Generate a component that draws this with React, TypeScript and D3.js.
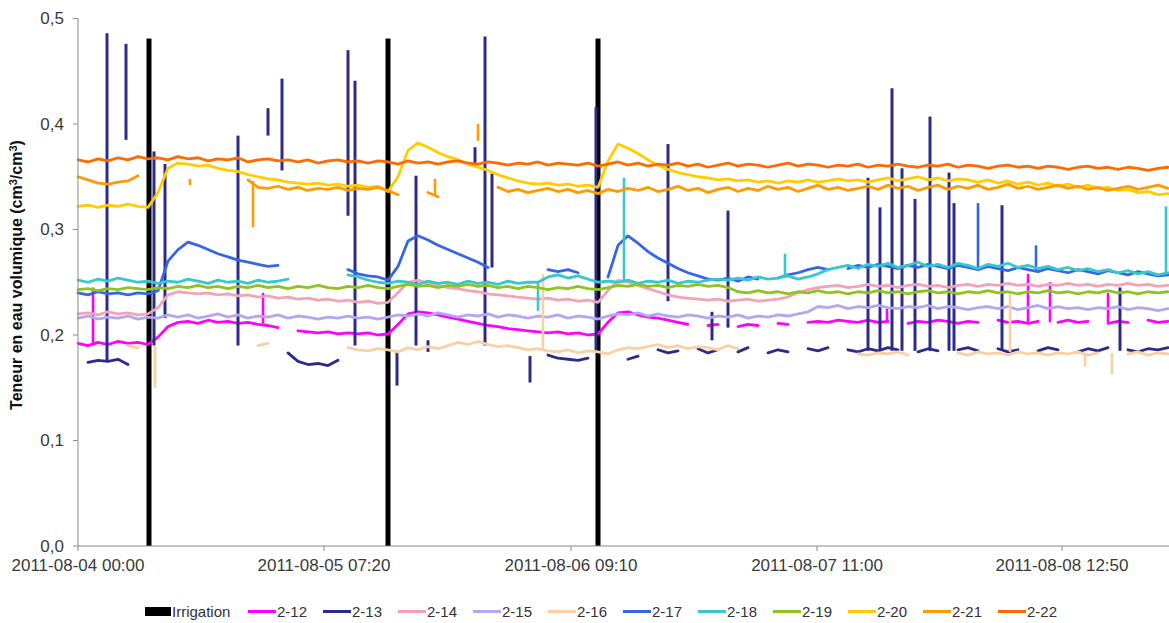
import React from 'react';
import * as d3 from 'd3';

// Soil volumetric water content, probes 2-12 … 2-22, with irrigation events.
// x is the sample index of the logger (one unit = one reading slot).

const W = 1169;
const H = 623;

const xTickPos = [0, 24.6, 49.3, 73.9, 98.4];
const xTickLabels = [
  '2011-08-04 00:00',
  '2011-08-05 07:20',
  '2011-08-06 09:10',
  '2011-08-07 11:00',
  '2011-08-08 12:50',
];
const yTicks = [0, 0.1, 0.2, 0.3, 0.4, 0.5];

const irrigationPos = [7.1, 31.0, 52.0];
const irrigationVal = [0.481, 0.481, 0.481];

const s2_12 = [
  0.192, 0.190, 0.193, 0.191, 0.194, 0.192, 0.193, 0.191, 0.198, 0.208,
  0.212, 0.213, 0.211, 0.214, 0.212, 0.213, 0.211, 0.212, 0.210, 0.209,
  0.207, null, 0.204, 0.203, 0.202, 0.203, 0.201, 0.202, 0.201, 0.202,
  0.200, 0.201, 0.210, 0.220, 0.222, 0.221, 0.219, 0.217, 0.215, 0.213,
  0.211, 0.209, 0.208, 0.206, 0.205, 0.204, 0.203, 0.202, 0.203, 0.201,
  0.202, 0.200, 0.201, 0.212, 0.221, 0.222, 0.219, 0.217, 0.216, 0.214,
  0.212, 0.210, null, 0.209, 0.210, null, 0.208, 0.210, 0.209, null,
  0.211, 0.210, null, 0.212, 0.213, 0.212, 0.214, 0.213, 0.212, 0.214,
  0.212, 0.213, null, 0.211, 0.213, 0.212, 0.214, 0.213, 0.211, 0.213,
  0.212, null, 0.214, 0.212, 0.213, 0.211, 0.213, null, 0.212, 0.214,
  0.212, 0.213, null, 0.211, 0.213, 0.212, null, 0.214, 0.212, 0.213,
];
const spikes2_12 = [
  [1.5, 0.192, 0.245],
  [18.5, 0.211, 0.24],
  [80.9, 0.213, 0.225],
  [95.0, 0.212, 0.258],
  [97.2, 0.212, 0.25],
  [103.0, 0.212, 0.24],
];

const s2_13 = [
  null, 0.174, 0.176, 0.175, 0.177, 0.172, null, null, null, null,
  null, null, null, null, null, null, null, null, null, null,
  null, 0.183, 0.175, 0.172, 0.173, 0.171, 0.176, null, null, null,
  null, null, null, null, null, null, null, null, null, null,
  null, null, null, null, null, null, null, 0.181, 0.178, 0.177,
  0.176, 0.178, null, null, null, 0.177, 0.180, null, 0.186, 0.183,
  0.185, null, 0.187, 0.183, 0.186, null, 0.184, 0.188, null, 0.183,
  0.186, 0.184, null, 0.187, 0.185, 0.188, null, 0.186, 0.184, 0.187,
  0.185, 0.188, 0.186, null, 0.184, 0.187, 0.185, null, 0.186, 0.188,
  0.185, null, 0.187, 0.184, 0.186, null, 0.185, 0.188, 0.186, null,
  0.184, 0.187, 0.185, 0.188, null, 0.186, 0.184, 0.187, 0.186, 0.188,
];
const spikes2_13 = [
  [2.9, 0.175, 0.486],
  [4.8, 0.385, 0.476],
  [7.6, 0.19, 0.374],
  [8.7, 0.216, 0.362],
  [16.0, 0.19, 0.389],
  [19.0, 0.389, 0.415],
  [20.4, 0.356, 0.443],
  [27.0, 0.313, 0.47],
  [27.7, 0.19, 0.441],
  [31.9, 0.152, 0.185],
  [33.8, 0.19, 0.351],
  [35.0, 0.184, 0.195],
  [39.7, 0.362, 0.378],
  [40.7, 0.19, 0.483],
  [41.4, 0.264, 0.353],
  [45.2, 0.155, 0.18],
  [51.8, 0.185, 0.416],
  [59.0, 0.232, 0.381],
  [63.4, 0.195, 0.222],
  [65.0, 0.207, 0.318],
  [79.0, 0.185, 0.349],
  [80.2, 0.185, 0.321],
  [81.4, 0.185, 0.434],
  [82.4, 0.185, 0.358],
  [83.7, 0.185, 0.329],
  [85.2, 0.185, 0.407],
  [87.1, 0.185, 0.354],
  [87.6, 0.185, 0.325],
  [92.4, 0.185, 0.323],
  [104.2, 0.185, 0.245],
];

const s2_14 = [
  0.220, 0.221, 0.219, 0.222, 0.220, 0.221, 0.219, 0.220, 0.226, 0.238,
  0.241, 0.240, 0.239, 0.240, 0.238, 0.239, 0.237, 0.238, 0.236, 0.237,
  0.235, 0.236, 0.234, 0.235, 0.233, 0.234, 0.232, 0.233, 0.231, 0.232,
  0.230, 0.231, 0.240, 0.250, 0.252, 0.249, 0.247, 0.245, 0.244, 0.242,
  0.241, 0.239, 0.238, 0.237, 0.236, 0.235, 0.234, 0.235, 0.233, 0.234,
  0.232, 0.233, 0.231, 0.242, 0.252, 0.250, 0.247, 0.244, 0.241, 0.238,
  0.236, 0.235, 0.234, 0.233, 0.234, 0.232, 0.233, 0.234, 0.232, 0.233,
  0.234, 0.236, 0.240, 0.243, 0.245, 0.246, 0.247, 0.245, 0.246, 0.248,
  0.246, 0.247, 0.245, 0.247, 0.248, 0.246, 0.247, 0.245, 0.247, 0.248,
  0.246, 0.248, 0.247, 0.249, 0.247, 0.248, 0.246, 0.248, 0.247, 0.249,
  0.247, 0.248, 0.246, 0.248, 0.247, 0.249, 0.247, 0.248, 0.246, 0.247,
];

const s2_15 = [
  0.216, 0.218, 0.215, 0.217, 0.216, 0.218, 0.215, 0.217, 0.216, 0.219,
  0.217, 0.219, 0.216, 0.218, 0.220, 0.217, 0.219, 0.216, 0.218, 0.217,
  0.219, 0.216, 0.218, 0.217, 0.215, 0.217, 0.216, 0.218, 0.216, 0.217,
  0.215, 0.217, 0.219, 0.218, 0.220, 0.218, 0.221, 0.219, 0.217, 0.219,
  0.218, 0.220, 0.217, 0.219, 0.218, 0.216, 0.218, 0.217, 0.219, 0.216,
  0.218, 0.217, 0.215, 0.218, 0.220, 0.219, 0.221, 0.218, 0.220, 0.218,
  0.217, 0.219, 0.218, 0.216, 0.218, 0.217, 0.219, 0.216, 0.218, 0.217,
  0.219, 0.218, 0.220, 0.222, 0.227, 0.226, 0.228, 0.225, 0.227, 0.226,
  0.228, 0.226, 0.225, 0.227, 0.226, 0.228, 0.225, 0.227, 0.226, 0.224,
  0.226, 0.227, 0.225, 0.227, 0.224, 0.226, 0.228, 0.225, 0.227, 0.225,
  0.226, 0.224, 0.226, 0.225, 0.227, 0.224, 0.226, 0.225, 0.223, 0.225,
];

const s2_16 = [
  null, null, null, null, null, 0.190, 0.188, null, null, null,
  null, null, null, null, null, null, null, null, 0.190, 0.192,
  null, null, null, null, null, null, null, 0.188, 0.186, 0.185,
  0.187, 0.186, 0.184, 0.188, 0.186, 0.189, 0.187, 0.190, 0.193, 0.191,
  0.194, 0.191, 0.189, 0.190, 0.188, 0.186, 0.187, 0.185, 0.184, 0.186,
  0.183, 0.185, 0.184, 0.182, 0.186, 0.188, 0.187, 0.189, 0.191, 0.188,
  0.190, 0.187, 0.189, 0.188, 0.186, 0.190, 0.187, null, null, null,
  null, null, null, null, null, null, null, null, 0.182, 0.181,
  0.183, 0.182, 0.184, 0.181, null, null, null, null, 0.183, 0.181,
  0.184, 0.182, 0.183, 0.181, 0.184, 0.182, 0.183, 0.181, 0.183, 0.182,
  0.184, 0.181, 0.183, null, null, 0.182, 0.184, 0.181, 0.183, 0.182,
];
const spikes2_16 = [
  [7.7, 0.15, 0.19],
  [46.5, 0.185, 0.258],
  [93.2, 0.184, 0.24],
  [100.7, 0.17, 0.183],
  [103.4, 0.163, 0.183],
];

const s2_17 = [
  0.240, 0.238, 0.241, 0.239, 0.240, 0.238, 0.240, 0.239, 0.242, 0.270,
  0.281, 0.288, 0.285, 0.281, 0.277, 0.274, 0.271, 0.269, 0.267, 0.265,
  0.266, null, null, null, null, null, null, 0.262, 0.258, 0.256,
  0.255, 0.252, 0.265, 0.289, 0.294, 0.290, 0.285, 0.281, 0.277, 0.273,
  0.269, 0.264, null, null, null, null, null, 0.262, 0.260, 0.262,
  0.259, null, null, 0.255, 0.285, 0.294, 0.287, 0.279, 0.273, 0.268,
  0.263, 0.259, 0.256, 0.253, 0.252, 0.254, 0.251, 0.255, 0.253, null,
  0.254, 0.257, 0.259, 0.262, 0.264, 0.262, null, 0.263, 0.266, 0.264,
  0.267, 0.265, 0.263, 0.266, 0.264, 0.267, 0.265, 0.263, 0.266, 0.264,
  0.262, 0.265, 0.263, 0.261, 0.264, 0.262, 0.260, 0.263, 0.261, 0.259,
  0.262, 0.260, 0.258, 0.261, 0.259, 0.257, 0.260, 0.258, 0.256, 0.257,
];
const spikes2_17 = [
  [90.0, 0.262, 0.325],
  [95.8, 0.26, 0.285],
];

const s2_18 = [
  0.252, 0.250, 0.253, 0.251, 0.254, 0.252, 0.250, 0.251, 0.249, 0.251,
  0.250, 0.253, 0.251, 0.249, 0.252, 0.250, 0.251, 0.249, 0.252, 0.250,
  0.251, 0.253, null, null, null, null, null, 0.257, 0.255, 0.252,
  0.250, 0.249, 0.251, 0.250, 0.248, 0.251, 0.249, 0.250, 0.248, 0.251,
  0.249, 0.250, 0.248, 0.251, 0.249, 0.250, 0.250, 0.255, 0.257, 0.254,
  0.256, 0.253, 0.250, 0.251, 0.250, 0.252, 0.249, 0.251, 0.250, 0.252,
  0.249, 0.251, 0.250, 0.252, 0.253, 0.252, 0.254, 0.252, 0.255, 0.253,
  0.254, 0.256, 0.253, 0.255, 0.258, 0.262, 0.264, 0.266, 0.263, 0.267,
  0.265, 0.268, 0.264, 0.266, 0.269, 0.265, 0.267, 0.264, 0.268, 0.266,
  0.263, 0.267, 0.265, 0.268, 0.264, 0.266, 0.263, 0.265, 0.262, 0.264,
  0.261, 0.263, 0.260, 0.262, 0.259, 0.261, 0.258, 0.260, 0.257, 0.259,
];
const spikes2_18 = [
  [46.0, 0.223, 0.25],
  [54.6, 0.25, 0.349],
  [70.7, 0.254, 0.277],
  [108.8, 0.258, 0.322],
];

const s2_19 = [
  0.243, 0.244, 0.242, 0.244, 0.243, 0.245, 0.244, 0.243, 0.245, 0.244,
  0.246, 0.245, 0.247, 0.245, 0.246, 0.244, 0.246, 0.245, 0.247, 0.245,
  0.246, 0.244, 0.246, 0.245, 0.247, 0.245, 0.244, 0.246, 0.245, 0.247,
  0.245, 0.244, 0.246, 0.248, 0.246, 0.247, 0.245, 0.247, 0.246, 0.248,
  0.246, 0.247, 0.245, 0.246, 0.244, 0.246, 0.245, 0.243, 0.245, 0.244,
  0.246, 0.244, 0.243, 0.245, 0.247, 0.246, 0.248, 0.246, 0.247, 0.245,
  0.247, 0.246, 0.248, 0.246, 0.247, 0.245, 0.241, 0.240, 0.242, 0.240,
  0.241, 0.239, 0.241, 0.240, 0.242, 0.240, 0.241, 0.239, 0.241, 0.240,
  0.242, 0.240, 0.241, 0.239, 0.241, 0.242, 0.240, 0.241, 0.239, 0.241,
  0.240, 0.242, 0.240, 0.241, 0.239, 0.241, 0.240, 0.242, 0.240, 0.241,
  0.239, 0.241, 0.240, 0.242, 0.240, 0.241, 0.239, 0.241, 0.240, 0.241,
];

const s2_20 = [
  0.322, 0.323, 0.321, 0.323, 0.322, 0.324, 0.322, 0.321, 0.335, 0.358,
  0.363, 0.362, 0.360, 0.361, 0.358, 0.356, 0.355, 0.352, 0.350, 0.348,
  0.347, 0.345, 0.344, 0.343, 0.344, 0.342, 0.343, 0.341, 0.342, 0.340,
  0.341, 0.336, 0.350, 0.375, 0.382, 0.378, 0.373, 0.369, 0.366, 0.362,
  0.359, 0.356, 0.352, 0.349, 0.346, 0.344, 0.343, 0.344, 0.342, 0.343,
  0.341, 0.342, 0.340, 0.365, 0.381, 0.377, 0.372, 0.366, 0.361, 0.357,
  0.354, 0.352, 0.350, 0.349, 0.347, 0.348, 0.346, 0.347, 0.345, 0.346,
  0.344, 0.346, 0.345, 0.347, 0.345, 0.346, 0.348, 0.346, 0.347, 0.345,
  0.347, 0.349, 0.346, 0.348, 0.350, 0.347, 0.349, 0.346, 0.348, 0.347,
  0.345, 0.347, 0.344, 0.346, 0.343, 0.345, 0.342, 0.344, 0.341, 0.343,
  0.340, 0.342, 0.339, 0.340, 0.337, 0.338, 0.335, 0.336, 0.333, 0.334,
];

const s2_21 = [
  0.350, 0.347, 0.344, 0.343, 0.345, 0.346, 0.351, null, null, null,
  null, null, null, null, null, null, null, 0.347, 0.340, 0.339,
  0.341, 0.338, 0.340, 0.337, 0.339, 0.338, 0.340, 0.337, 0.339, 0.338,
  0.340, 0.337, 0.333, null, null, 0.335, 0.331, null, null, null,
  null, null, 0.340, 0.336, 0.338, 0.335, 0.337, 0.339, 0.336, 0.338,
  0.335, 0.337, 0.334, 0.338, 0.336, 0.339, 0.337, 0.340, 0.336, 0.338,
  0.341, 0.337, 0.339, 0.335, 0.338, 0.340, 0.336, 0.339, 0.337, 0.341,
  0.338, 0.340, 0.336, 0.339, 0.342, 0.338, 0.340, 0.337, 0.339, 0.341,
  0.338, 0.342, 0.339, 0.341, 0.337, 0.340, 0.342, 0.338, 0.341, 0.339,
  0.342, 0.338, 0.340, 0.343, 0.339, 0.341, 0.338, 0.340, 0.342, 0.339,
  0.341, 0.338, 0.340, 0.337, 0.339, 0.341, 0.338, 0.340, 0.342, 0.339,
];
const spikes2_21 = [
  [11.2, 0.342, 0.348],
  [17.5, 0.302, 0.346],
  [35.7, 0.332, 0.348],
  [40.0, 0.384, 0.4],
];

const s2_22 = [
  0.366, 0.364, 0.367, 0.365, 0.368, 0.366, 0.369, 0.367, 0.368, 0.366,
  0.369, 0.367, 0.368, 0.365, 0.367, 0.366, 0.368, 0.364, 0.366, 0.367,
  0.365, 0.366, 0.364, 0.366, 0.363, 0.365, 0.366, 0.364, 0.365, 0.363,
  0.365, 0.364, 0.362, 0.365, 0.363, 0.364, 0.362, 0.364, 0.365, 0.363,
  0.362, 0.364, 0.363, 0.361, 0.363, 0.362, 0.364, 0.361, 0.363, 0.362,
  0.361, 0.363, 0.360, 0.362, 0.364, 0.361, 0.363, 0.360, 0.362, 0.361,
  0.363, 0.360, 0.362, 0.359, 0.361, 0.363, 0.360, 0.362, 0.361, 0.359,
  0.361, 0.363, 0.360, 0.362, 0.361, 0.359, 0.361, 0.360, 0.362, 0.359,
  0.361, 0.360, 0.362, 0.360, 0.359, 0.361, 0.360, 0.362, 0.359, 0.361,
  0.360, 0.358, 0.360, 0.361, 0.359, 0.360, 0.358, 0.360, 0.359, 0.357,
  0.359, 0.360, 0.358, 0.359, 0.357, 0.359, 0.358, 0.356, 0.358, 0.359,
];

const seriesNames = ['2-12', '2-13', '2-14', '2-15', '2-16', '2-17', '2-18', '2-19', '2-20', '2-21', '2-22'];
const seriesColors = [
  '#ff00ff', '#2b2b8c', '#f4a3b6', '#b6a6f0', '#f8d0a4', '#3765ea',
  '#36c8cc', '#8fc31f', '#ffcc00', '#ff9a00', '#ff6a00',
];
const seriesValues = [s2_12, s2_13, s2_14, s2_15, s2_16, s2_17, s2_18, s2_19, s2_20, s2_21, s2_22];
const seriesSpikes = [spikes2_12, spikes2_13, [], [], spikes2_16, spikes2_17, spikes2_18, [], [], spikes2_21, []];

const FONT = '"Liberation Sans", Arial, sans-serif';

export default function App() {
  const x = d3.scaleLinear().domain([0, 109]).range([78, 1168]);
  const y = d3.scaleLinear().domain([0, 0.5]).range([546, 18.5]);
  const fmt = (v: number) => d3.format('.1f')(v).replace('.', ',');

  const line = d3
    .line<[number, number | null]>()
    .defined((d) => d[1] != null)
    .x((d) => x(d[0]))
    .y((d) => y(d[1] as number));

  const legendStart = 248;
  const legendStep = 75;

  return (
    <svg
      width={W}
      height={H}
      style={{ position: 'absolute', left: 0, top: 0, background: '#fff' }}
      fontFamily={FONT}
    >
      <rect x={0} y={0} width={W} height={H} fill="#fff" />

      {/* irrigation bars */}
      {irrigationPos.map((p, i) => (
        <rect
          key={'irr' + i}
          x={x(p) - 2.5}
          y={y(irrigationVal[i])}
          width={5}
          height={y(0) - y(irrigationVal[i])}
          fill="#000"
        />
      ))}

      {/* probe series */}
      {seriesValues.map((vals, si) => {
        const pts = vals.map((v, i) => [i, v] as [number, number | null]);
        return (
          <g key={seriesNames[si]}>
            <path
              d={line(pts) || ''}
              fill="none"
              stroke={seriesColors[si]}
              strokeWidth={2.8}
              strokeLinejoin="round"
              strokeLinecap="round"
            />
            {seriesSpikes[si].map((s, k) => (
              <line
                key={k}
                x1={x(s[0])}
                x2={x(s[0])}
                y1={y(s[1])}
                y2={y(s[2])}
                stroke={seriesColors[si]}
                strokeWidth={si === 1 ? 3 : 2.6}
              />
            ))}
          </g>
        );
      })}

      {/* y axis */}
      <line x1={78} x2={78} y1={y(0.5)} y2={y(0)} stroke="#8a8a8a" strokeWidth={1} />
      {yTicks.map((t) => (
        <g key={'yt' + t}>
          <line x1={73} x2={78} y1={y(t)} y2={y(t)} stroke="#8a8a8a" />
          <text
            x={64}
            y={y(t)}
            dy="0.35em"
            textAnchor="end"
            fontSize={17}
            fill="#3a3a3a"
          >
            {fmt(t)}
          </text>
        </g>
      ))}

      {/* x axis */}
      <line x1={78} x2={W} y1={y(0)} y2={y(0)} stroke="#8a8a8a" strokeWidth={1} />
      {xTickPos.map((p, i) => (
        <g key={'xt' + i}>
          <line x1={x(p)} x2={x(p)} y1={y(0)} y2={y(0) + 5} stroke="#8a8a8a" />
          <text x={x(p)} y={571} textAnchor="middle" fontSize={17} fill="#3a3a3a">
            {xTickLabels[i]}
          </text>
        </g>
      ))}

      {/* y axis title */}
      <text
        transform={`translate(22,275) rotate(-90)`}
        textAnchor="middle"
        fontSize={16}
        fontWeight="bold"
        fill="#111"
      >
        Teneur en eau volumique (cm
        <tspan dy={-5} fontSize={11}>3</tspan>
        <tspan dy={5}>/cm</tspan>
        <tspan dy={-5} fontSize={11}>3</tspan>
        <tspan dy={5}>)</tspan>
      </text>

      {/* legend */}
      <g fontSize={15} fill="#333">
        <rect x={145} y={607} width={26} height={9} fill="#000" />
        <text x={172} y={617}>Irrigation</text>
        {seriesNames.map((n, i) => {
          const lx = legendStart + i * legendStep;
          return (
            <g key={'lg' + n}>
              <line x1={lx} x2={lx + 28} y1={611.5} y2={611.5} stroke={seriesColors[i]} strokeWidth={3} />
              <text x={lx + 29} y={617}>{n}</text>
            </g>
          );
        })}
      </g>
    </svg>
  );
}
